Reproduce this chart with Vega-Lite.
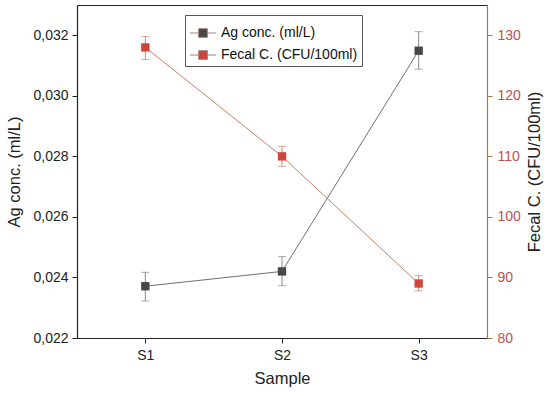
{
  "$schema": "https://vega.github.io/schema/vega-lite/v6.json",
  "width": 410,
  "height": 333,
  "autosize": "none",
  "padding": {"left": 77, "top": 5, "right": 63, "bottom": 58},
  "background": "white",
  "config": {
    "font": "Liberation Sans",
    "view": {"stroke": "#222", "strokeWidth": 1},
    "axis": {"grid": false, "labelFont": "Liberation Sans", "titleFont": "Liberation Sans", "labelFontSize": 14, "titleFontSize": 16.5, "titleFontWeight": "normal", "labelColor": "#222", "titleColor": "#222", "domainColor": "#222", "tickColor": "#222", "tickSize": 5, "domainWidth": 1.2}
  },
  "data": {
    "values": [
      {"sample": "S1", "ag": 0.02371, "ag_lo": 0.02322, "ag_hi": 0.02417, "fecal": 128.0, "fecal_lo": 126.0, "fecal_hi": 129.8},
      {"sample": "S2", "ag": 0.02420, "ag_lo": 0.02373, "ag_hi": 0.02469, "fecal": 110.0, "fecal_lo": 108.35, "fecal_hi": 111.65},
      {"sample": "S3", "ag": 0.03149, "ag_lo": 0.03088, "ag_hi": 0.03212, "fecal": 89.0, "fecal_lo": 87.8, "fecal_hi": 90.3}
    ]
  },
  "encoding": {
    "x": {"field": "sample", "type": "ordinal", "scale": {"type": "point", "padding": 0.5}, "axis": {"title": "Sample", "labelAngle": 0, "labelPadding": 5, "titlePadding": 8, "domainColor": "#222"}}
  },
  "layer": [
    {
      "layer": [
        {"mark": {"type": "rule", "color": "#8a8a8a", "strokeWidth": 1}, "encoding": {"y": {"field": "ag_lo", "type": "quantitative"}, "y2": {"field": "ag_hi"}}},
        {"mark": {"type": "tick", "color": "#8a8a8a", "size": 8, "thickness": 1, "orient": "horizontal"}, "encoding": {"y": {"field": "ag_lo", "type": "quantitative"}}},
        {"mark": {"type": "tick", "color": "#8a8a8a", "size": 8, "thickness": 1, "orient": "horizontal"}, "encoding": {"y": {"field": "ag_hi", "type": "quantitative"}}},
        {"mark": {"type": "line", "color": "#707070", "strokeWidth": 1}, "encoding": {"y": {"field": "ag", "type": "quantitative"}}},
        {"mark": {"type": "point", "shape": "square", "filled": true, "opacity": 1, "size": 70},
         "encoding": {
           "y": {"field": "ag", "type": "quantitative", "scale": {"domain": [0.022, 0.033], "nice": false, "zero": false},
                 "axis": {"title": "Ag conc. (ml/L)", "orient": "left", "values": [0.022, 0.024, 0.026, 0.028, 0.030, 0.032], "labelExpr": "replace(format(datum.value, '.3f'), '.', ',')", "labelPadding": 4, "titlePadding": 10}},
           "color": {"datum": "Ag conc. (ml/L)", "type": "nominal",
             "scale": {"domain": ["Ag conc. (ml/L)", "Fecal C. (CFU/100ml)"], "range": ["#474747", "#d0453a"]},
             "legend": {"title": null, "orient": "none", "legendX": 108, "legendY": 10, "direction": "vertical",
               "symbolType": "M -1 0 L -0.33 0 M 0.33 0 L 1 0 M -0.33 -0.33 L 0.33 -0.33 L 0.33 0.33 L -0.33 0.33 Z",
               "symbolSize": 700, "symbolStrokeWidth": 1, "symbolStrokeColor": "#a08080",
               "labelFont": "Liberation Sans", "labelFontSize": 14, "labelColor": "#111", "rowPadding": 1,
               "strokeColor": "#555", "fillColor": "white", "padding": 4, "labelOffset": 4}}
         }}
      ]
    },
    {
      "layer": [
        {"mark": {"type": "rule", "color": "#c08a75", "strokeWidth": 1}, "encoding": {"y": {"field": "fecal_lo", "type": "quantitative"}, "y2": {"field": "fecal_hi"}}},
        {"mark": {"type": "tick", "color": "#c08a75", "size": 8, "thickness": 1, "orient": "horizontal"}, "encoding": {"y": {"field": "fecal_lo", "type": "quantitative"}}},
        {"mark": {"type": "tick", "color": "#c08a75", "size": 8, "thickness": 1, "orient": "horizontal"}, "encoding": {"y": {"field": "fecal_hi", "type": "quantitative"}}},
        {"mark": {"type": "line", "color": "#c4826a", "strokeWidth": 1}, "encoding": {"y": {"field": "fecal", "type": "quantitative"}}},
        {"mark": {"type": "point", "shape": "square", "filled": true, "opacity": 1, "size": 70},
         "encoding": {
           "y": {"field": "fecal", "type": "quantitative", "scale": {"domain": [80, 135], "nice": false, "zero": false},
                 "axis": {"title": "Fecal C. (CFU/100ml)", "orient": "right", "titleAngle": 270, "titleBaseline": "top", "values": [80, 90, 100, 110, 120, 130], "labelColor": "#c0504d", "domainColor": "#a87848", "tickColor": "#a87848", "labelPadding": 5, "titlePadding": 6}},
           "color": {"datum": "Fecal C. (CFU/100ml)", "type": "nominal"}
         }}
      ]
    }
  ],
  "resolve": {"scale": {"y": "independent"}}
}
